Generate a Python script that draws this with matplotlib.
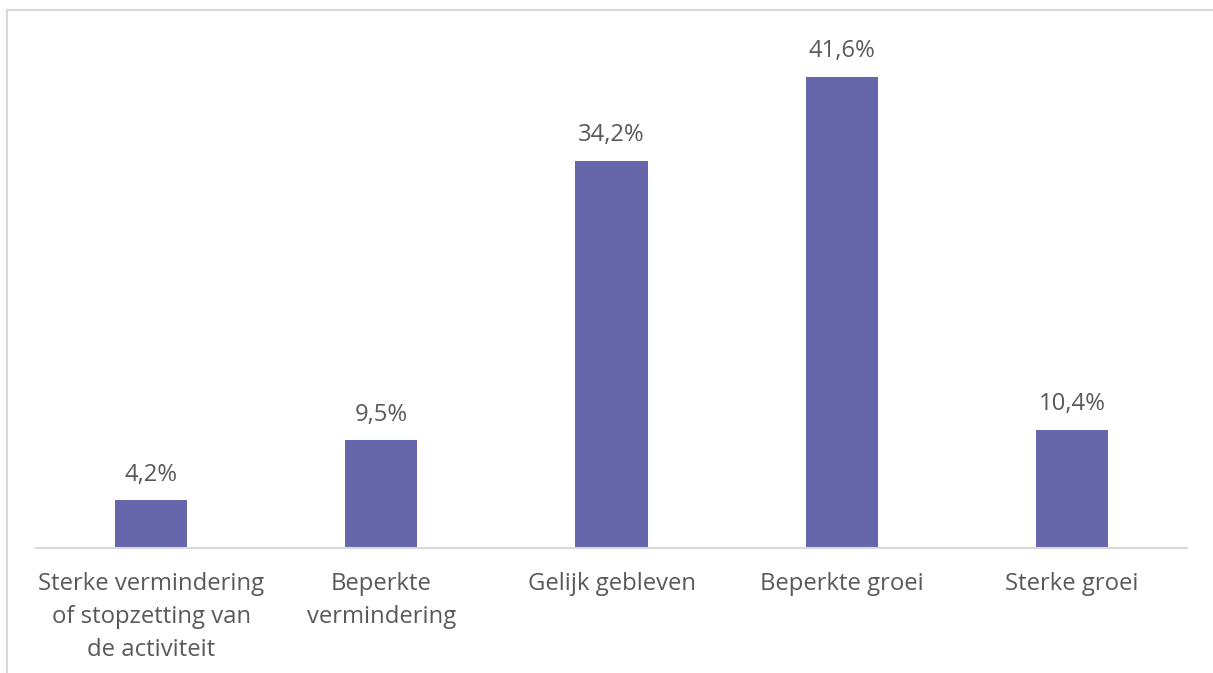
import matplotlib
matplotlib.use("Agg")
import matplotlib.pyplot as plt
from matplotlib.lines import Line2D

categories = [
    "Sterke vermindering\nof stopzetting van\nde activiteit",
    "Beperkte\nvermindering",
    "Gelijk gebleven",
    "Beperkte groei",
    "Sterke groei",
]
values = [4.2, 9.5, 34.2, 41.6, 10.4]
value_labels = ["4,2%", "9,5%", "34,2%", "41,6%", "10,4%"]

W, H, DPI = 1213, 673, 100
BAR_COLOR = "#6667AB"
TEXT_COLOR = "#595959"
FONT_SIZE = 17.2
plt.rcParams["font.family"] = ["Open Sans", "DejaVu Sans"]

fig = plt.figure(figsize=(W / DPI, H / DPI), dpi=DPI)
fig.patch.set_facecolor("white")

# plot area in pixel coordinates
left_px, right_px, base_px, top_px = 36, 1187, 548, 38.5
ax = fig.add_axes([left_px / W, (H - base_px) / H,
                   (right_px - left_px) / W, (base_px - top_px) / H])

x = range(len(categories))
ax.bar(x, values, width=0.313, color=BAR_COLOR, zorder=2)
ax.set_xlim(-0.5, len(categories) - 0.5)
ax.set_ylim(0, 45)

for xi, v, lab in zip(x, values, value_labels):
    ax.annotate(lab, (xi, v), xytext=(0, 10), textcoords="offset points",
                ha="center", va="bottom", fontsize=FONT_SIZE, color=TEXT_COLOR)

ax.set_xticks(list(x))
ax.set_xticklabels(categories, fontsize=FONT_SIZE, color=TEXT_COLOR,
                   linespacing=1.5, va="top")
ax.tick_params(axis="x", length=0, pad=17)
ax.set_yticks([])
for side in ("top", "right", "left"):
    ax.spines[side].set_visible(False)
ax.spines["bottom"].set_color("#d9d9d9")
ax.spines["bottom"].set_linewidth(1.5)

# outer chart frame (top and left edges)
fx = 6.5 / W
fy = 1 - 9.5 / H
fig.add_artist(Line2D([fx, 1], [fy, fy], transform=fig.transFigure,
                      color="#d9d9d9", lw=1.5))
fig.add_artist(Line2D([fx, fx], [0, fy], transform=fig.transFigure,
                      color="#d9d9d9", lw=1.5))

fig.savefig("out.png", dpi=DPI, facecolor="white")
